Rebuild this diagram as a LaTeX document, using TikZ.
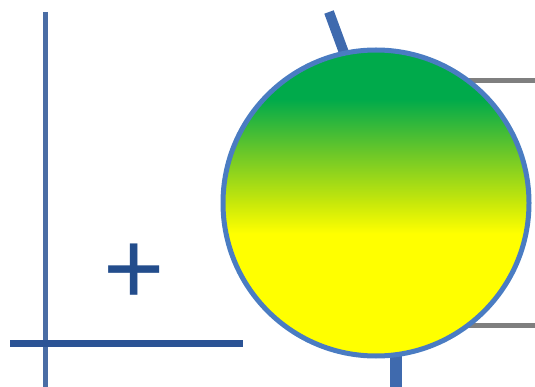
\documentclass[tikz,border=0pt]{standalone}
\usepackage{fontspec}
\setmainfont{Liberation Sans}
\usetikzlibrary{positioning,calc}
\definecolor{axisblue}{HTML}{4A6DA5}
\definecolor{axisdark}{HTML}{2B5395}
\definecolor{rimblue}{HTML}{4A7CC2}
\definecolor{stemblue}{HTML}{3F6AAE}
\definecolor{plusblue}{HTML}{234D8C}
\definecolor{wiregray}{HTML}{7F7F7F}
\definecolor{leafgreen}{RGB}{0,170,75}
\definecolor{limegreen}{RGB}{110,200,40}
\definecolor{paleyellow}{RGB}{200,232,10}
\definecolor{sunyellow}{RGB}{255,255,0}
\pgfdeclareverticalshading{ballshade}{100bp}{color(0bp)=(sunyellow); color(45bp)=(sunyellow); color(50bp)=(paleyellow); color(58bp)=(limegreen); color(67bp)=(leafgreen); color(100bp)=(leafgreen)}

\begin{document}
\begin{tikzpicture}[x=1pt,y=-1pt,
    wire/.style={wiregray,line width=5pt},
    stem/.style={stemblue,line width=10pt}]
  \useasboundingbox (0,0) rectangle (535,387);
  % stubs behind the ball
  \coordinate (stemtop) at (329,12);
  \coordinate (stembot) at (350,69);
  \coordinate (foottop) at (396,340);
  \coordinate (footbot) at (396,387);
  \coordinate (wirea) at (460,81);
  \coordinate (wireaend) at (535,81);
  \coordinate (wireb) at (460,325);
  \coordinate (wirebend) at (535,325);
  \draw[stem] (stemtop) -- (stembot);
  \draw[stem,line width=12pt] (foottop) -- (footbot);
  \draw[wire] (wirea) -- (wireaend);
  \draw[wire] (wireb) -- (wirebend);
  \node[circle,draw=rimblue,line width=5pt,shading=ballshade,
        minimum size=306pt,inner sep=0pt] (ball) at (376,203) {};
  % axes
  \coordinate (ytop) at (45,12);
  \coordinate (ybot) at (45,387);
  \coordinate (xleft) at (10,343);
  \coordinate (xright) at (243,343);
  \draw[axisblue,line width=5pt] (ytop) -- (ybot);
  \draw[axisdark,line width=7pt] (xleft) -- (xright);
  \node[plusblue,font=\fontsize{105}{105}\selectfont] (plus) at (134,274) {+};
\end{tikzpicture}
\end{document}
